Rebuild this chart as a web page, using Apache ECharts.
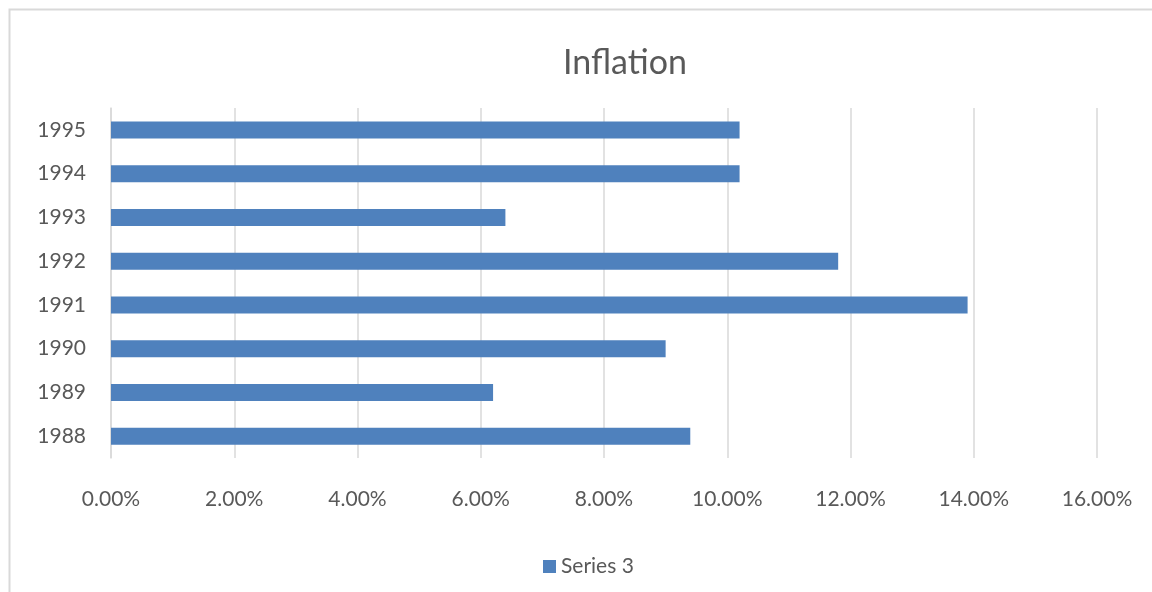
<!DOCTYPE html>
<html>
<head>
<meta charset="utf-8">
<script src="https://cdn.jsdelivr.net/npm/echarts@6/dist/echarts.min.js"></script>
<style>
  html, body { margin: 0; padding: 0; background: #fff; }
  #inflationChart { width: 1152px; height: 592px; }
</style>
</head>
<body>
<div id="inflationChart"></div>
<script>
  // data (fractions, shown as %)
  var years = ['1988', '1989', '1990', '1991', '1992', '1993', '1994', '1995']
  var series3 = [0.094, 0.062, 0.090, 0.139, 0.118, 0.064, 0.102, 0.102]
  var xTicks = [0, 0.02, 0.04, 0.06, 0.08, 0.10, 0.12, 0.14, 0.16]

  var textColor = '#595959'
  var fontName = 'Lato'

  var chart = echarts.init(document.getElementById('inflationChart'))
  chart.setOption({
    animation: false,
    textStyle: { fontFamily: fontName },
    // chart area frame, only top and left edges show in the picture
    graphic: [{
      type: 'rect',
      shape: { x: 9.5, y: 9.5, width: 1300, height: 700 },
      style: { fill: 'none', stroke: '#d9d9d9', lineWidth: 2 },
      silent: true
    }],
    title: {
      text: 'Inflation',
      left: 620,
      top: 41,
      textAlign: 'center',
      textStyle: { color: textColor, fontSize: 34, fontWeight: 'normal', fontFamily: fontName }
    },
    legend: {
      data: ['Series 3'],
      left: 538,
      top: 551,
      itemWidth: 13,
      itemHeight: 13,
      itemGap: 6,
      icon: 'rect',
      textStyle: { color: textColor, fontSize: 21, fontFamily: fontName }
    },
    grid: {
      left: 111,
      right: 55,
      top: 108,
      bottom: 134,
      containLabel: false
    },
    xAxis: {
      type: 'value',
      min: xTicks[0],
      max: xTicks[xTicks.length - 1],
      interval: 0.02,
      axisLine: { show: false },
      axisTick: { show: false },
      splitLine: { show: true, lineStyle: { color: '#d9d9d9', width: 1.5 } },
      axisLabel: {
        color: textColor,
        fontSize: 21,
        margin: 31,
        fontFamily: fontName,
        formatter: function (v) { return (v * 100).toFixed(2) + '%' }
      }
    },
    yAxis: {
      type: 'category',
      data: years,
      axisLine: { show: true, lineStyle: { color: '#d9d9d9', width: 1.5 } },
      axisTick: { show: false },
      axisLabel: { color: textColor, fontSize: 21, margin: 25, fontFamily: fontName }
    },
    series: [{
      name: 'Series 3',
      type: 'bar',
      data: series3,
      barWidth: 17,
      itemStyle: { color: '#4f81bd' }
    }]
  })
</script>
</body>
</html>
